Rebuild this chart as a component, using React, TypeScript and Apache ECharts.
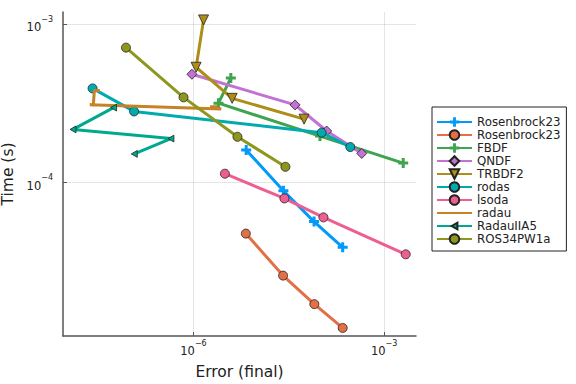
import React, { useEffect, useRef } from "react";
import * as echarts from "echarts";

// ---- data (error, time) ----
const rosenbrockAErr = [6.75e-6, 2.6e-5, 7.9e-5, 2.23e-4];
const rosenbrockATime = [1.61e-4, 8.9e-5, 5.68e-5, 3.91e-5];

const rosenbrockBErr = [6.67e-6, 2.57e-5, 7.98e-5, 2.23e-4];
const rosenbrockBTime = [4.77e-5, 2.59e-5, 1.71e-5, 1.21e-5];

const fbdfErr = [3.87e-6, 2.47e-6, 9.8e-5, 2.0e-3];
const fbdfTime = [4.58e-4, 3.18e-4, 1.97e-4, 1.33e-4];

const qndfErr = [9.44e-7, 3.97e-5, 1.25e-4, 4.45e-4];
const qndfTime = [4.84e-4, 3.1e-4, 2.12e-4, 1.53e-4];

const trbdf2Err = [1.44e-6, 1.1e-6, 4.06e-6, 5.5e-5];
const trbdf2Time = [1.067e-3, 5.36e-4, 3.41e-4, 2.52e-4];

const rodasErr = [2.58e-8, 1.16e-7, 1.04e-4, 2.94e-4];
const rodasTime = [3.94e-4, 2.82e-4, 2.07e-4, 1.68e-4];

const lsodaErr = [3.12e-6, 2.7e-5, 1.11e-4, 2.19e-3];
const lsodaTime = [1.14e-4, 7.96e-5, 6.04e-5, 3.53e-5];

const radauErr = [3.35e-8, 2.75e-8, 2.65e-8, 2.33e-8, 2.73e-6, 1.83e-6, 2.36e-6];
const radauTime = [3.82e-4, 3.82e-4, 3.1e-4, 3.11e-4, 2.92e-4, 3.02e-4, 3.02e-4];

const radauIIA5Err = [1.17e-7, 4.41e-7, 1.27e-8, 5.52e-8];
const radauIIA5Time = [1.52e-4, 1.9e-4, 2.17e-4, 2.98e-4];

const ros34Err = [8.65e-8, 6.97e-7, 4.92e-6, 2.8e-5];
const ros34Time = [7.13e-4, 3.46e-4, 1.95e-4, 1.26e-4];

const xTicks = [1e-6, 1e-3];
const yTicks = [1e-4, 1e-3];
const xRange = [8.83e-9, 3.18e-3];
const yRange = [1.076e-5, 1.197e-3];

const seriesNames = [
  "Rosenbrock23", "Rosenbrock23 ", "FBDF", "QNDF", "TRBDF2",
  "rodas", "lsoda", "radau", "RadauIIA5", "ROS34PW1a",
];
const seriesColors = [
  "#009AFA", "#E36F47", "#3EA44E", "#C371D2", "#AC8E18",
  "#00AAAE", "#ED5E93", "#C68225", "#00A98D", "#8E971D",
];

const CROSS = "path://M3.5,0h3v3.5h3.5v3h-3.5v3.5h-3v-3.5h-3.5v-3h3.5z";
// left-pointing triangle drawn inside a larger (invisible) box so that it stays small
const LTRI = "path://M0,0M10,10M2,5L8,1.6L8,8.4Z";

const FONT = "DejaVu Sans";

function toPairs(xs: number[], ys: number[]) {
  return xs.map((x, i) => [Math.log10(x), Math.log10(ys[i])]);
}

function supLabel(v: number) {
  const e = Math.round(v);
  const s = e < 0 ? "\u2212" + Math.abs(e) : String(e);
  return `{b|10}{s|${s}}`;
}

export default function App() {
  const ref = useRef<HTMLDivElement>(null);
  useEffect(() => {
    if (!ref.current) return;
    const chart = echarts.init(ref.current, undefined, { renderer: "svg" });
    const datasets = [
      [rosenbrockAErr, rosenbrockATime],
      [rosenbrockBErr, rosenbrockBTime],
      [fbdfErr, fbdfTime],
      [qndfErr, qndfTime],
      [trbdf2Err, trbdf2Time],
      [rodasErr, rodasTime],
      [lsodaErr, lsodaTime],
      [radauErr, radauTime],
      [radauIIA5Err, radauIIA5Time],
      [ros34Err, ros34Time],
    ];
    const symbols: any[] = [
      [CROSS, 10, 0],
      ["circle", 9, 0],
      [CROSS, 10, 0],
      ["diamond", 10, 0],
      ["triangle", 10, 180],
      ["circle", 9, 0],
      ["circle", 9, 0],
      ["none", 0, 0],
      [LTRI, 10, 0],
      ["circle", 9, 0],
    ];
    const series = datasets.map((d, i) => {
      const [sym, size, rot] = symbols[i];
      const isCross = sym === CROSS;
      return {
        type: "line",
        name: seriesNames[i],
        data: toPairs(d[0], d[1]),
        showSymbol: sym !== "none",
        symbol: sym,
        symbolSize: size,
        symbolRotate: rot,
        lineStyle: { color: seriesColors[i], width: 3 },
        itemStyle: {
          color: seriesColors[i],
          borderColor: isCross ? seriesColors[i] : "#222",
          borderWidth: isCross ? 0 : 0.8,
        },
        emphasis: { disabled: true },
        z: 2 + i,
      };
    });
    const rich = {
      b: { fontSize: 11.5, fontFamily: FONT, color: "#222", verticalAlign: "bottom", lineHeight: 18 },
      s: { fontSize: 8, fontFamily: FONT, color: "#222", verticalAlign: "top", lineHeight: 10 },
    };
    const legendData = seriesNames.map((n, i) =>
      i === 7 ? { name: n, itemStyle: { opacity: 0 } } : { name: n }
    );
    chart.setOption({
      animation: false,
      grid: { left: 63, right: 160, top: 12, bottom: 48, containLabel: false, outerBoundsMode: "none" },
      xAxis: {
        type: "value",
        min: Math.log10(xRange[0]),
        max: Math.log10(xRange[1]),
        name: "Error (final)",
        nameLocation: "middle",
        nameGap: 28,
        nameTextStyle: { fontSize: 15.5, fontFamily: FONT, color: "#222" },
        axisLine: { show: true, onZero: false, lineStyle: { color: "#555", width: 1.5 } },
        axisTick: { show: true, inside: true, length: 4, customValues: xTicks.map(Math.log10), lineStyle: { color: "#555" } },
        axisLabel: { customValues: xTicks.map(Math.log10), formatter: supLabel, rich, margin: 3 },
        splitLine: { show: true, lineStyle: { color: "rgba(0,0,0,0.1)", width: 1 } },
      },
      yAxis: {
        type: "value",
        min: Math.log10(yRange[0]),
        max: Math.log10(yRange[1]),
        name: "Time (s)",
        nameLocation: "middle",
        nameGap: 40,
        nameTextStyle: { fontSize: 15.5, fontFamily: FONT, color: "#222" },
        axisLine: { show: true, onZero: false, lineStyle: { color: "#555", width: 1.5 } },
        axisTick: { show: true, inside: true, length: 4, customValues: yTicks.map(Math.log10), lineStyle: { color: "#555" } },
        axisLabel: { customValues: yTicks.map(Math.log10), formatter: supLabel, rich, margin: 10 },
        splitLine: { show: true, lineStyle: { color: "rgba(0,0,0,0.1)", width: 1 } },
      },
      legend: {
        show: true,
        orient: "vertical",
        left: 432,
        top: 107,
        itemWidth: 35,
        itemHeight: 12,
        itemGap: 1,
        padding: [9, 6, 6, 4],
        borderColor: "#222",
        borderWidth: 1,
        backgroundColor: "#fff",
        selectedMode: false,
        formatter: (n: string) => n.trim(),
        textStyle: { fontSize: 11.8, fontFamily: FONT, color: "#222" },
        data: legendData,
      },
      series,
    });
    return () => chart.dispose();
  }, []);
  return (
    <div
      ref={ref}
      style={{ position: "fixed", left: 0, top: 0, width: 576, height: 384, background: "#fff" }}
    />
  );
}
